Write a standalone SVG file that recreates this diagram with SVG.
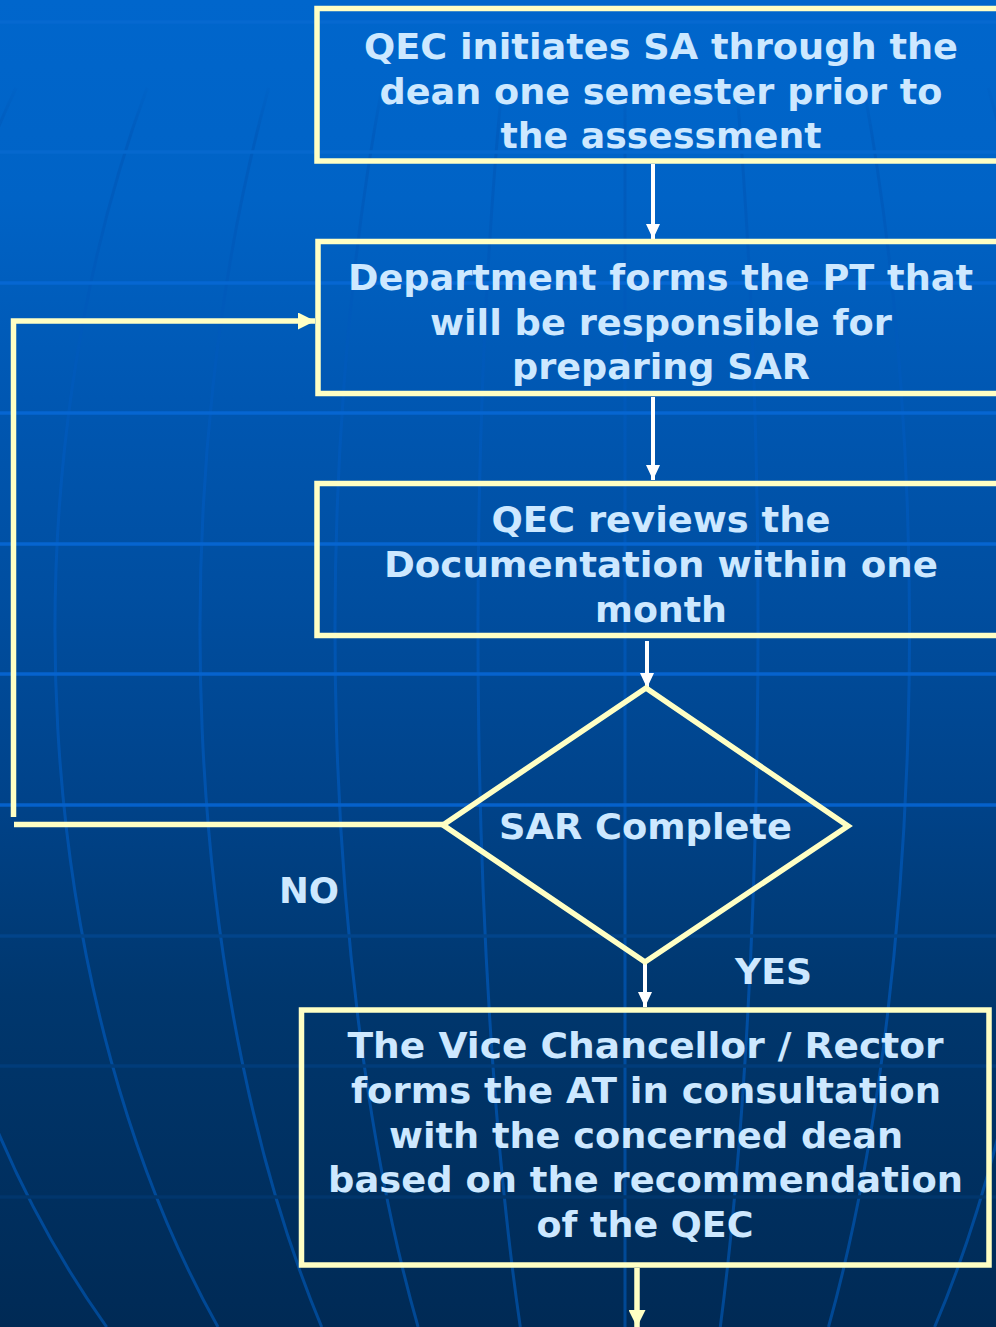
<svg xmlns="http://www.w3.org/2000/svg" width="996" height="1327" viewBox="0 0 996 1327">
  <defs>
    <linearGradient id="bg" x1="0" y1="0" x2="0" y2="1327" gradientUnits="userSpaceOnUse">
      <stop offset="0" stop-color="#0066cc"/>
      <stop offset="0.15" stop-color="#0063c6"/>
      <stop offset="0.3" stop-color="#0057b2"/>
      <stop offset="0.45" stop-color="#004ea0"/>
      <stop offset="0.6" stop-color="#00438a"/>
      <stop offset="0.75" stop-color="#00376e"/>
      <stop offset="1" stop-color="#002a55"/>
    </linearGradient>
    <!-- meridian ink: close to the backdrop near the top, stronger lower down -->
    <linearGradient id="meridianInk" x1="0" y1="0" x2="0" y2="1327" gradientUnits="userSpaceOnUse">
      <stop offset="0" stop-color="#005ec0"/>
      <stop offset="0.35" stop-color="#0058b8"/>
      <stop offset="0.6" stop-color="#0052ac"/>
      <stop offset="1" stop-color="#004894"/>
    </linearGradient>
    <linearGradient id="fade" x1="0" y1="80" x2="0" y2="135" gradientUnits="userSpaceOnUse">
      <stop offset="0" stop-color="#000"/>
      <stop offset="1" stop-color="#fff"/>
    </linearGradient>
    <mask id="meridianFade" maskUnits="userSpaceOnUse" x="0" y="0" width="996" height="1327">
      <rect x="0" y="0" width="996" height="1327" fill="url(#fade)"/>
    </mask>
    <marker id="headWhite" viewBox="0 0 15 14" refX="15" refY="7" markerWidth="15" markerHeight="14" markerUnits="userSpaceOnUse" orient="auto">
      <path d="M0,0 L15,7 L0,14 Z" fill="#ffffff"/>
    </marker>
    <marker id="headCream" viewBox="0 0 17 17" refX="17" refY="8.5" markerWidth="17" markerHeight="17" markerUnits="userSpaceOnUse" orient="auto">
      <path d="M0,0 L17,8.5 L0,17 Z" fill="#ffffc4"/>
    </marker>
  </defs>
  <style>
    .meridian { fill: none; stroke: url(#meridianInk); stroke-width: 3; }
    .parallel { fill: none; stroke-width: 3.5; }
    .box { fill: none; stroke: #ffffc4; stroke-width: 5.5; }
    .label { font-family: "DejaVu Sans", Verdana, sans-serif; font-weight: bold; font-size: 36px; fill: #cde8ff; text-anchor: middle; }
    .white { fill: none; stroke: #ffffff; stroke-width: 4; }
    .cream { fill: none; stroke: #ffffc4; stroke-width: 5.5; }
  </style>

  <!-- backdrop: gradient with a globe grid -->
  <rect x="0" y="0" width="996" height="1327" fill="url(#bg)"/>
  <g id="meridians" mask="url(#meridianFade)">
    <path class="meridian" d="M16,88 A727,996 0 0 0 106.7,1327"/>
    <path class="meridian" d="M147,88 A571,996 0 0 0 218,1327"/>
    <path class="meridian" d="M268.6,88 A426,996 0 0 0 321.7,1327"/>
    <path class="meridian" d="M381.9,88 A291,996 0 0 0 418.1,1327"/>
    <path class="meridian" d="M501.8,88 A148,996 0 0 0 520.3,1327"/>
    <path class="meridian" d="M625,88 L625,1327"/>
    <path class="meridian" d="M736.7,88 A132,996 0 0 1 720.3,1327"/>
    <path class="meridian" d="M863.9,88 A283.5,996 0 0 1 828.5,1327"/>
    <path class="meridian" d="M988.4,88 A432,996 0 0 1 934.6,1327"/>
  </g>
  <g id="parallels">
    <line class="parallel" x1="0" y1="22" x2="996" y2="22" stroke="#0669d0"/>
    <line class="parallel" x1="0" y1="152" x2="996" y2="152" stroke="#0668ce"/>
    <line class="parallel" x1="0" y1="283" x2="996" y2="283" stroke="#0667d2"/>
    <line class="parallel" x1="0" y1="413" x2="996" y2="413" stroke="#0666d2"/>
    <line class="parallel" x1="0" y1="544" x2="996" y2="544" stroke="#0665d0"/>
    <line class="parallel" x1="0" y1="674" x2="996" y2="674" stroke="#0663ce"/>
    <line class="parallel" x1="0" y1="805" x2="996" y2="805" stroke="#0561cb"/>
    <line class="parallel" x1="0" y1="936" x2="996" y2="936" stroke="#02448a"/>
    <line class="parallel" x1="0" y1="1066" x2="996" y2="1066" stroke="#013c7a"/>
    <line class="parallel" x1="0" y1="1197" x2="996" y2="1197" stroke="#01366c"/>
  </g>

  <!-- connectors -->
  <g id="connectors">
    <line class="white" x1="653" y1="164" x2="653" y2="239" marker-end="url(#headWhite)"/>
    <line class="white" x1="653" y1="397" x2="653" y2="480" marker-end="url(#headWhite)"/>
    <line class="white" x1="647" y1="641" x2="647" y2="688" marker-end="url(#headWhite)"/>
    <line class="white" x1="645" y1="963" x2="645" y2="1007" marker-end="url(#headWhite)"/>
    <line class="cream" x1="637" y1="1268" x2="637" y2="1327" marker-end="url(#headCream)"/>
    <!-- NO branch back to the planning team step -->
    <line class="cream" x1="443" y1="824.5" x2="14" y2="824.5"/>
    <polyline class="cream" points="13.5,817 13.5,321 315,321" stroke-linejoin="miter" marker-end="url(#headCream)"/>
  </g>

  <g id="node-initiate">
    <rect class="box" x="317" y="8.5" width="700" height="152.5"/>
    <text class="label" x="661" y="59" textLength="594" lengthAdjust="spacingAndGlyphs">QEC initiates SA through the</text>
    <text class="label" x="661" y="103.5" textLength="563" lengthAdjust="spacingAndGlyphs">dean one semester prior to</text>
    <text class="label" x="661" y="147.5" textLength="321" lengthAdjust="spacingAndGlyphs">the assessment</text>
  </g>

  <g id="node-team">
    <rect class="box" x="318" y="241.5" width="700" height="152"/>
    <text class="label" x="660.5" y="289.5" textLength="625" lengthAdjust="spacingAndGlyphs">Department forms the PT that</text>
    <text class="label" x="661" y="334.5" textLength="462" lengthAdjust="spacingAndGlyphs">will be responsible for</text>
    <text class="label" x="661" y="379" textLength="298" lengthAdjust="spacingAndGlyphs">preparing SAR</text>
  </g>

  <g id="node-review">
    <rect class="box" x="317" y="483.5" width="700" height="152"/>
    <text class="label" x="661" y="532" textLength="339" lengthAdjust="spacingAndGlyphs">QEC reviews the</text>
    <text class="label" x="661" y="577" textLength="554" lengthAdjust="spacingAndGlyphs">Documentation within one</text>
    <text class="label" x="661" y="621.5" textLength="132" lengthAdjust="spacingAndGlyphs">month</text>
  </g>

  <g id="node-decision">
    <polygon class="box" points="646,688 848,826 645,962 443,825"/>
    <text class="label" x="645.5" y="839" textLength="293" lengthAdjust="spacingAndGlyphs">SAR Complete</text>
  </g>

  <g id="label-no">
    <text class="label" x="309" y="903" textLength="60" lengthAdjust="spacingAndGlyphs">NO</text>
  </g>
  <g id="label-yes">
    <text class="label" x="773.5" y="984" textLength="77" lengthAdjust="spacingAndGlyphs">YES</text>
  </g>

  <g id="node-assessment-team">
    <rect class="box" x="301.5" y="1010" width="687.5" height="255"/>
    <text class="label" x="645.5" y="1058" textLength="596" lengthAdjust="spacingAndGlyphs">The Vice Chancellor / Rector</text>
    <text class="label" x="646" y="1103" textLength="590" lengthAdjust="spacingAndGlyphs">forms the AT in consultation</text>
    <text class="label" x="646" y="1147.5" textLength="514" lengthAdjust="spacingAndGlyphs">with the concerned dean</text>
    <text class="label" x="645.5" y="1192" textLength="635" lengthAdjust="spacingAndGlyphs">based on the recommendation</text>
    <text class="label" x="645" y="1237" textLength="217" lengthAdjust="spacingAndGlyphs">of the QEC</text>
  </g>
</svg>
